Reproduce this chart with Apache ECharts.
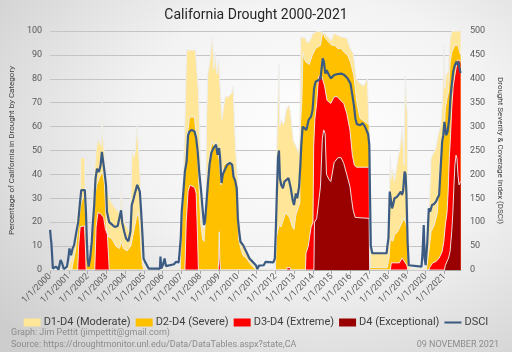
<!DOCTYPE html>
<html>
<head>
<meta charset="utf-8">
<script src="https://cdn.jsdelivr.net/npm/echarts@6/dist/echarts.min.js"></script>
<style>
    html, body { margin: 0; padding: 0; }
    #chart {
        width: 512px; height: 352px;
        background: radial-gradient(ellipse 80% 85% at 62% 38%, #ffffff 0%, #f3f3f3 45%, #cdcdcd 100%);
    }
</style>
</head>
<body>
<div id="chart"></div>
<script>
// ---- data: [year, value] ----
var d1Moderate = [
    [2000.0, 0], [2000.9, 0], [2001.0, 2], [2001.15, 5], [2001.3, 12], [2001.4, 20], [2001.5, 27], [2001.6, 28],
    [2001.63, 47], [2001.85, 47], [2001.88, 20], [2001.95, 12], [2002.0, 4], [2002.06, 2], [2002.15, 10], [2002.25, 25],
    [2002.35, 40], [2002.45, 50], [2002.55, 55], [2002.65, 55], [2002.72, 52], [2002.78, 75], [2002.8, 56], [2002.9, 48],
    [2002.95, 40], [2003.05, 33], [2003.15, 30], [2003.3, 28], [2003.45, 26], [2003.6, 25], [2003.75, 23], [2003.8, 41],
    [2003.84, 24], [2003.95, 20], [2004.1, 18], [2004.25, 16], [2004.32, 35], [2004.36, 50], [2004.45, 47], [2004.55, 50],
    [2004.62, 61], [2004.68, 55], [2004.75, 45], [2004.82, 35], [2004.88, 20], [2004.95, 6], [2005.0, 2], [2005.1, 0.5],
    [2006.9, 0.5], [2006.95, 5], [2007.02, 19], [2007.1, 42], [2007.18, 61], [2007.27, 92], [2007.74, 92], [2007.81, 84],
    [2007.9, 75], [2007.98, 54], [2008.05, 33], [2008.1, 19], [2008.2, 17], [2008.28, 18], [2008.33, 61], [2008.4, 82],
    [2008.49, 86], [2008.59, 94], [2008.65, 97.6], [2008.72, 84], [2008.8, 91], [2008.88, 82], [2008.98, 88], [2009.05, 77],
    [2009.15, 63], [2009.2, 66], [2009.33, 72.5], [2009.5, 72.5], [2009.67, 74], [2009.75, 77], [2009.83, 58.6], [2009.92, 44.6],
    [2010.0, 37.7], [2010.08, 21], [2010.17, 12.6], [2010.34, 9.8], [2010.5, 7], [2010.7, 4], [2010.85, 2], [2011.0, 0.5],
    [2011.95, 0.5], [2011.99, 7], [2012.05, 40], [2012.1, 60], [2012.19, 86], [2012.23, 60], [2012.31, 63], [2012.4, 61],
    [2012.48, 62], [2012.58, 67], [2012.72, 69], [2012.8, 66], [2012.87, 60], [2012.96, 54], [2013.09, 52], [2013.23, 49],
    [2013.3, 55], [2013.35, 97.5], [2013.6, 97], [2013.7, 95], [2013.85, 96], [2014.0, 99], [2014.28, 100], [2014.62, 99],
    [2014.79, 97.6], [2014.96, 96], [2015.13, 99], [2015.47, 97.6], [2015.8, 97], [2015.97, 93], [2016.14, 90.6], [2016.22, 86],
    [2016.31, 80], [2016.5, 78], [2016.7, 77], [2016.9, 80], [2017.0, 80], [2017.06, 40], [2017.1, 8], [2017.97, 7],
    [2018.05, 20], [2018.12, 48], [2018.17, 38], [2018.25, 42], [2018.34, 37], [2018.42, 41], [2018.51, 46], [2018.6, 49.5],
    [2018.68, 53.7], [2018.76, 60], [2018.85, 44], [2018.92, 81.6], [2018.97, 70], [2019.02, 66], [2019.07, 12], [2019.12, 2],
    [2019.19, 0.7], [2019.87, 0.7], [2020.0, 1], [2020.04, 5], [2020.12, 17], [2020.21, 30], [2020.29, 46.7], [2020.37, 48],
    [2020.46, 49.5], [2020.55, 51], [2020.63, 55], [2020.72, 58], [2020.8, 60.7], [2020.85, 65], [2020.92, 74.6], [2020.99, 94],
    [2021.03, 76], [2021.09, 81.6], [2021.2, 83], [2021.31, 97], [2021.39, 99.7], [2021.5, 100], [2021.86, 100]
];

var d2Severe = [
    [2000.0, 0], [2001.15, 0], [2001.2, 2], [2001.35, 8], [2001.45, 15], [2001.55, 22], [2001.65, 28], [2001.75, 30],
    [2001.85, 31], [2001.92, 15], [2002.0, 2], [2002.1, 2], [2002.2, 8], [2002.3, 20], [2002.4, 32], [2002.5, 36],
    [2002.6, 38], [2002.7, 40], [2002.8, 41], [2002.9, 36], [2002.95, 27], [2003.0, 17], [2003.1, 14], [2003.3, 13],
    [2003.5, 10], [2003.7, 9], [2003.8, 12], [2003.9, 9], [2004.1, 8], [2004.3, 10], [2004.4, 14], [2004.5, 18],
    [2004.6, 22], [2004.7, 24], [2004.78, 18], [2004.85, 8], [2004.92, 2], [2005.0, 0], [2006.93, 0], [2007.01, 19],
    [2007.1, 33], [2007.18, 44], [2007.27, 55], [2007.35, 59], [2007.43, 64], [2007.69, 64], [2007.78, 56], [2007.86, 47],
    [2007.94, 33], [2008.03, 19], [2008.12, 13], [2008.2, 12], [2008.28, 22], [2008.37, 36], [2008.45, 44], [2008.54, 50],
    [2008.62, 54], [2008.71, 52], [2008.78, 51], [2008.84, 53.7], [2008.92, 49.5], [2009.01, 46], [2009.1, 35.6], [2009.18, 41],
    [2009.26, 44], [2009.45, 45], [2009.65, 44], [2009.77, 42.5], [2009.85, 38], [2009.94, 37], [2010.0, 24], [2010.04, 13],
    [2010.11, 10.5], [2010.2, 7.7], [2010.28, 6], [2010.45, 5], [2010.62, 3], [2010.79, 1.4], [2010.96, 0.3], [2011.05, 0],
    [2012.0, 0], [2012.06, 14], [2012.2, 19], [2012.3, 18], [2012.42, 21], [2012.55, 24], [2012.65, 23], [2012.75, 22],
    [2012.9, 18], [2012.99, 17], [2013.09, 23], [2013.23, 26.5], [2013.3, 28], [2013.33, 60.7], [2013.4, 69], [2013.47, 91],
    [2013.55, 88], [2013.63, 87], [2013.8, 86], [2013.97, 90], [2014.14, 92.7], [2014.4, 94], [2014.52, 99.7], [2014.65, 97],
    [2014.82, 95.5], [2015.0, 94], [2015.16, 94], [2015.33, 92.7], [2015.5, 92.7], [2015.67, 91], [2015.84, 90], [2016.0, 87],
    [2016.17, 81.6], [2016.34, 70], [2016.51, 63.5], [2016.77, 62], [2016.99, 60.7], [2017.03, 30], [2017.06, 1], [2017.95, 1],
    [2018.05, 5], [2018.12, 13], [2018.25, 12], [2018.34, 14.6], [2018.51, 16], [2018.68, 18.8], [2018.85, 21.6], [2018.93, 20],
    [2019.02, 17], [2019.07, 2], [2019.12, 0], [2020.04, 0], [2020.17, 7.7], [2020.29, 16], [2020.46, 18.8], [2020.63, 24],
    [2020.72, 39.7], [2020.8, 49.5], [2020.88, 53.7], [2020.97, 56.5], [2021.05, 67.6], [2021.14, 71.8], [2021.22, 74.6], [2021.31, 87],
    [2021.39, 91], [2021.56, 94], [2021.73, 94], [2021.82, 91], [2021.86, 90]
];

var d3Extreme = [
    [2000.0, 0], [2001.47, 0], [2001.52, 10], [2001.6, 18], [2001.7, 18.5], [2001.83, 18.5], [2001.88, 10], [2001.92, 0],
    [2002.38, 0], [2002.45, 18], [2002.55, 24], [2002.7, 23.5], [2002.85, 22], [2002.95, 17], [2003.05, 15], [2003.12, 5],
    [2003.15, 0], [2007.18, 0], [2007.25, 20], [2007.35, 33], [2007.45, 35.5], [2007.7, 34.5], [2007.78, 32], [2007.85, 15],
    [2007.9, 0], [2008.95, 0], [2008.98, 4], [2009.01, 16], [2009.04, 4], [2009.08, 0], [2012.6, 0], [2012.62, 1],
    [2012.8, 1], [2012.82, 0], [2013.6, 0], [2013.63, 7], [2013.75, 10], [2013.9, 18], [2014.0, 20], [2014.04, 52],
    [2014.1, 63], [2014.2, 70], [2014.3, 81], [2014.45, 81.6], [2014.55, 82], [2014.62, 77], [2014.75, 71], [2014.95, 69.7],
    [2015.13, 72.5], [2015.3, 72.5], [2015.47, 71], [2015.64, 69.7], [2015.8, 65.5], [2015.97, 58.6], [2016.1, 48], [2016.2, 44],
    [2016.31, 43], [2016.99, 43], [2017.02, 0], [2018.12, 0], [2018.17, 3], [2018.6, 3], [2018.75, 5], [2018.85, 4.5],
    [2019.0, 2], [2019.05, 0], [2020.17, 0], [2020.21, 1], [2020.38, 3], [2020.55, 3.5], [2020.72, 5], [2020.88, 7.7],
    [2020.97, 12], [2021.05, 18.8], [2021.14, 24], [2021.2, 33], [2021.26, 46.7], [2021.31, 53.7], [2021.39, 67.6], [2021.47, 77],
    [2021.56, 81.6], [2021.65, 85.8], [2021.73, 88], [2021.8, 88.6], [2021.86, 87]
];

var d4Exceptional = [
    [2000.0, 0], [2014.05, 0], [2014.08, 20], [2014.2, 21.6], [2014.3, 22], [2014.4, 35], [2014.5, 55], [2014.57, 58.6],
    [2014.65, 57], [2014.72, 40], [2014.85, 38], [2014.95, 37], [2015.13, 45], [2015.33, 47], [2015.5, 47], [2015.64, 44.6],
    [2015.8, 40], [2015.97, 35], [2016.05, 30], [2016.14, 25], [2016.25, 22], [2016.34, 21.6], [2016.99, 21.6], [2017.02, 0],
    [2021.0, 0], [2021.05, 2], [2021.22, 5], [2021.3, 7.7], [2021.39, 16], [2021.45, 24], [2021.51, 35.6], [2021.56, 44],
    [2021.62, 48], [2021.67, 46.7], [2021.72, 40], [2021.78, 35.6], [2021.86, 37]
];

var dsci = [
    [2000.0, 84], [2000.04, 66], [2000.07, 56], [2000.15, 3], [2000.32, 7], [2000.45, 1], [2000.56, 21], [2000.64, 14],
    [2000.73, 2], [2000.82, 1], [2000.9, 7], [2000.97, 24], [2001.03, 45], [2001.12, 31], [2001.2, 45], [2001.28, 52],
    [2001.4, 80], [2001.5, 101], [2001.58, 136], [2001.66, 167], [2001.76, 170], [2001.85, 167], [2001.91, 122], [2001.96, 60],
    [2002.0, 24], [2002.05, 7], [2002.13, 24], [2002.22, 59], [2002.27, 94], [2002.35, 136], [2002.42, 191], [2002.5, 212],
    [2002.6, 205], [2002.69, 219], [2002.76, 247], [2002.85, 247], [2002.9, 205], [2002.98, 177], [2003.03, 122], [2003.15, 100],
    [2003.3, 95], [2003.45, 90], [2003.6, 92], [2003.7, 88], [2003.78, 125], [2003.84, 100], [2003.95, 80], [2004.05, 66],
    [2004.17, 60], [2004.28, 80], [2004.35, 136], [2004.42, 145], [2004.5, 158], [2004.64, 178], [2004.72, 178], [2004.78, 164],
    [2004.85, 122], [2004.93, 66], [2004.98, 24], [2005.06, 17], [2005.15, 14], [2005.25, 3], [2005.85, 3], [2005.88, 28],
    [2005.92, 3], [2006.0, 10], [2006.1, 24], [2006.17, 8], [2006.25, 12], [2006.6, 12], [2006.7, 17], [2006.76, 21],
    [2006.85, 16], [2006.9, 38], [2006.96, 66], [2007.01, 122], [2007.1, 164], [2007.18, 206], [2007.27, 227], [2007.35, 282],
    [2007.43, 290], [2007.55, 293], [2007.65, 293], [2007.69, 290], [2007.78, 276], [2007.86, 248], [2007.94, 206], [2008.03, 171],
    [2008.12, 129], [2008.2, 94], [2008.25, 101], [2008.32, 136], [2008.4, 178], [2008.49, 220], [2008.59, 245], [2008.7, 255],
    [2008.84, 262], [2008.92, 241], [2009.0, 255], [2009.05, 237], [2009.13, 182], [2009.2, 200], [2009.3, 209], [2009.43, 220],
    [2009.58, 224], [2009.7, 220], [2009.77, 195], [2009.85, 188], [2009.94, 171], [2010.0, 108], [2010.07, 80], [2010.14, 59],
    [2010.28, 52], [2010.45, 38], [2010.62, 24], [2010.79, 17], [2010.96, 10], [2011.04, 2], [2011.12, 9], [2011.38, 10],
    [2011.47, 17], [2011.89, 16], [2011.97, 24], [2012.03, 94], [2012.08, 164], [2012.14, 234], [2012.19, 250], [2012.24, 192],
    [2012.31, 178], [2012.4, 171], [2012.48, 185], [2012.58, 188], [2012.7, 192], [2012.82, 171], [2012.92, 146], [2012.99, 136],
    [2013.09, 160], [2013.16, 150], [2013.26, 174], [2013.33, 220], [2013.38, 262], [2013.45, 300], [2013.55, 300], [2013.65, 293],
    [2013.77, 314], [2013.9, 321], [2013.98, 335], [2014.06, 380], [2014.14, 394], [2014.28, 397], [2014.4, 400], [2014.52, 443],
    [2014.58, 436], [2014.66, 411], [2014.73, 418], [2014.85, 408], [2014.96, 401], [2015.13, 408], [2015.33, 410], [2015.5, 411],
    [2015.67, 408], [2015.84, 401], [2016.0, 390], [2016.08, 370], [2016.18, 345], [2016.26, 317], [2016.34, 305], [2016.51, 303],
    [2016.65, 307], [2016.77, 300], [2016.94, 284], [2017.0, 262], [2017.04, 150], [2017.08, 50], [2017.16, 35], [2017.92, 35],
    [2017.97, 52], [2018.02, 66], [2018.09, 164], [2018.14, 164], [2018.21, 129], [2018.26, 135], [2018.34, 150], [2018.45, 152],
    [2018.55, 157], [2018.68, 164], [2018.74, 157], [2018.8, 165], [2018.88, 206], [2018.93, 200], [2018.98, 157], [2019.04, 59],
    [2019.1, 10], [2019.2, 7], [2019.78, 7], [2019.83, 31], [2019.9, 94], [2019.95, 24], [2020.0, 10], [2020.09, 59],
    [2020.17, 129], [2020.24, 122], [2020.34, 136], [2020.45, 138], [2020.55, 143], [2020.63, 150], [2020.72, 157], [2020.8, 213],
    [2020.88, 268], [2020.94, 282], [2021.0, 310], [2021.09, 282], [2021.17, 289], [2021.26, 317], [2021.32, 359], [2021.39, 387],
    [2021.47, 415], [2021.56, 429], [2021.65, 436], [2021.7, 429], [2021.75, 436], [2021.8, 422], [2021.86, 412]
];

var seriesNames = ["D1-D4 (Moderate)", "D2-D4 (Severe)", "D3-D4 (Extreme)", "D4 (Exceptional)", "DSCI"];
var areaColors = ["#ffe699", "#ffc000", "#ff0000", "#990000"];
var lineColor = "#3b5b82";

var font = "Roboto";
var chart = echarts.init(document.getElementById("chart"), null, { renderer: "canvas" });

function areaSeries(i, data) {
    return {
        name: seriesNames[i], type: "line", data: data, yAxisIndex: 0,
        symbol: "none", silent: true,
        itemStyle: { color: areaColors[i] },
        lineStyle: { color: "rgba(236,236,236,0.95)", width: 1 },
        areaStyle: { color: areaColors[i], opacity: 1 },
        z: 2 + i
    };
}

chart.setOption({
    animation: false,
    backgroundColor: "transparent",
    textStyle: { fontFamily: font },
    title: [
        { text: "California Drought 2000-2021", left: "center", top: 3,
          textStyle: { fontFamily: font, fontSize: 14, fontWeight: "normal", color: "#262626" } },
        { text: "Graph: Jim Pettit (jimpettit@gmail.com)", left: 6, top: 323,
          textStyle: { fontFamily: font, fontSize: 9, fontWeight: "normal", color: "#8c8c8c" } },
        { text: "Source: https://droughtmonitor.unl.edu/Data/DataTables.aspx?state,CA", left: 6, top: 335,
          textStyle: { fontFamily: font, fontSize: 9, fontWeight: "normal", color: "#8c8c8c" } },
        { text: "09 NOVEMBER 2021", right: 8, top: 335,
          textStyle: { fontFamily: font, fontSize: 9, fontWeight: "normal", color: "#8c8c8c" } }
    ],
    legend: {
        left: "center", top: 312,
        itemWidth: 17, itemHeight: 8, itemGap: 5,
        textStyle: { fontFamily: font, fontSize: 11, color: "#404040", padding: [0, 0, 0, -2] },
        data: [
            { name: seriesNames[0], icon: "rect" },
            { name: seriesNames[1], icon: "rect" },
            { name: seriesNames[2], icon: "rect" },
            { name: seriesNames[3], icon: "rect" },
            { name: seriesNames[4], icon: "path://M0,0 L20,0 L20,2.4 L0,2.4 Z" }
        ]
    },
    grid: { left: 39, right: 43, top: 31, bottom: 82 },
    xAxis: {
        type: "value", min: 2000, max: 2021.88, interval: 1,
        axisLine: { lineStyle: { color: "#a6a6a6" } },
        axisTick: { show: true, length: 4, lineStyle: { color: "#a6a6a6" } },
        splitLine: { show: false },
        axisLabel: {
            rotate: 45, fontSize: 9, color: "#595959", margin: 5,
            showMaxLabel: false,
            formatter: function (v) { return "1/1/" + v; }
        }
    },
    yAxis: [
        {
            type: "value", min: 0, max: 100, interval: 10,
            name: "Percentage of California in Drought by Category",
            nameLocation: "middle", nameGap: 23,
            nameTextStyle: { fontSize: 8, color: "#404040" },
            axisLine: { show: false }, axisTick: { show: false },
            axisLabel: { fontSize: 9, color: "#595959", margin: 8 },
            splitLine: { lineStyle: { color: "#c4c4c4", width: 1 } }
        },
        {
            type: "value", min: 0, max: 500, interval: 50, position: "right",
            name: "Drought Severity & Coverage Index (DSCI)",
            nameLocation: "middle", nameGap: 32, nameRotate: -90,
            nameTextStyle: { fontSize: 8, color: "#404040" },
            axisLine: { show: false }, axisTick: { show: false },
            axisLabel: { fontSize: 9, color: "#595959", margin: 9 },
            splitLine: { show: false }
        }
    ],
    series: [
        areaSeries(0, d1Moderate),
        areaSeries(1, d2Severe),
        areaSeries(2, d3Extreme),
        areaSeries(3, d4Exceptional),
        {
            name: seriesNames[4], type: "line", data: dsci, yAxisIndex: 1,
            symbol: "none", silent: true, z: 10,
            itemStyle: { color: lineColor },
            lineStyle: { color: lineColor, width: 2.2 }
        }
    ]
});
</script>
</body>
</html>
